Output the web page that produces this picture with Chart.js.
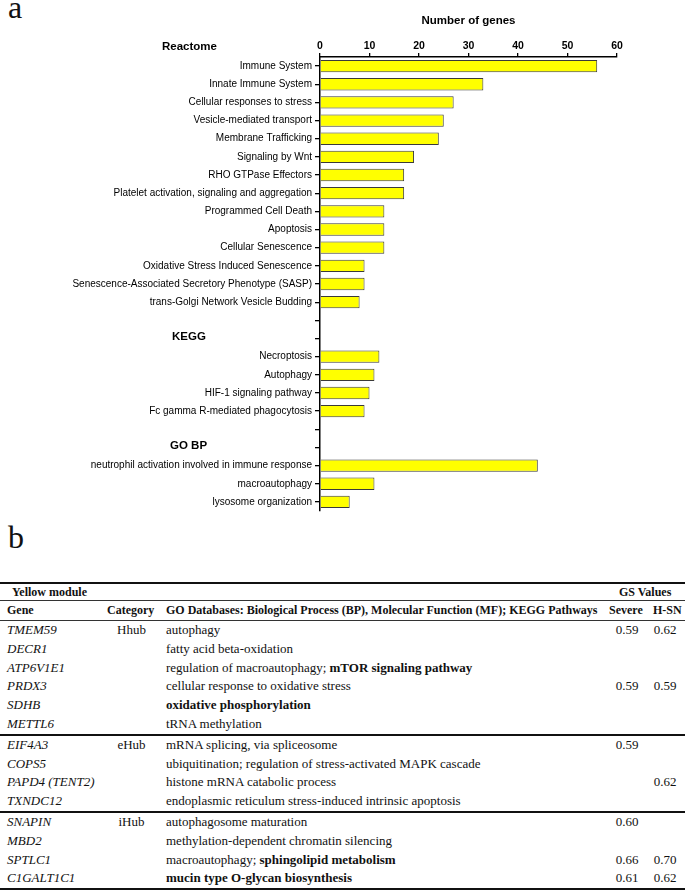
<!DOCTYPE html>
<html>
<head>
<meta charset="utf-8">
<script src="https://cdn.jsdelivr.net/npm/chart.js@4.4.1/dist/chart.umd.min.js"></script>
<style>
  body { margin: 0; background: #fff; width: 685px; height: 893px; overflow: hidden; position: relative; color: #111; }
  .panel { position: absolute; left: 8px; font: 32px "Liberation Serif", serif; line-height: 32px; }
  #chartBox { position: absolute; left: 0; top: 0; width: 685px; height: 520px; }
  #table { position: absolute; left: 0; top: 582px; width: 685px; font-family: "Liberation Serif", serif; }
  .row { position: relative; height: 18.8px; font-size: 13px; }
  .row span { position: absolute; top: 0; line-height: 18.8px; white-space: nowrap; }
  .head { font-weight: bold; font-size: 12px; }
  .rule { height: 1px; background: #333; }
  .thick { height: 2px; background: #111; }
  i { font-style: italic; }
</style>
</head>
<body>
<div class="panel" style="top:-9px">a</div>
<div class="panel" style="top:521px">b</div>
<div id="chartBox"><canvas id="myChart"></canvas></div>
<div id="table"></div>
<script>
// panel a data
const sectionNames = ["Reactome", "KEGG", "GO BP"];
const reactomeTerms = [
  "Immune System",
  "Innate Immune System",
  "Cellular responses to stress",
  "Vesicle-mediated transport",
  "Membrane Trafficking",
  "Signaling by Wnt",
  "RHO GTPase Effectors",
  "Platelet activation, signaling and aggregation",
  "Programmed Cell Death",
  "Apoptosis",
  "Cellular Senescence",
  "Oxidative Stress Induced Senescence",
  "Senescence-Associated Secretory Phenotype (SASP)",
  "trans-Golgi Network Vesicle Budding",
];
const reactomeCounts = [56, 33, 27, 25, 24, 19, 17, 17, 13, 13, 13, 9, 9, 8];
const keggTerms = [
  "Necroptosis",
  "Autophagy",
  "HIF-1 signaling pathway",
  "Fc gamma R-mediated phagocytosis",
];
const keggCounts = [12, 11, 10, 9];
const goTerms = [
  "neutrophil activation involved in immune response",
  "macroautophagy",
  "lysosome organization",
];
const goCounts = [44, 11, 6];
const xTicks = [0, 10, 20, 30, 40, 50, 60];

// panel b data
const genes = ["TMEM59", "DECR1", "ATP6V1E1", "PRDX3", "SDHB", "METTL6",
  "EIF4A3", "COPS5", "PAPD4 (TENT2)", "TXNDC12",
  "SNAPIN", "MBD2", "SPTLC1", "C1GALT1C1"];
const hubs = ["Hhub", "", "", "", "", "", "eHub", "", "", "", "iHub", "", "", ""];
const geneTerms = [
  "autophagy",
  "fatty acid beta-oxidation",
  "regulation of macroautophagy; <b>mTOR signaling pathway</b>",
  "cellular response to oxidative stress",
  "<b>oxidative phosphorylation</b>",
  "tRNA methylation",
  "mRNA splicing, via spliceosome",
  "ubiquitination; regulation of stress-activated MAPK cascade",
  "histone mRNA catabolic process",
  "endoplasmic reticulum stress-induced intrinsic apoptosis",
  "autophagosome maturation",
  "methylation-dependent chromatin silencing",
  "macroautophagy; <b>sphingolipid metabolism</b>",
  "<b>mucin type O-glycan biosynthesis</b>",
];
const gsSevere = ["0.59", "", "", "0.59", "", "", "0.59", "", "", "", "0.60", "", "0.66", "0.61"];
const gsHSN = ["0.62", "", "", "0.59", "", "", "", "", "0.62", "", "", "", "0.70", "0.62"];
const groupSizes = [6, 4, 4];

const labels = [...reactomeTerms, "", "", ...keggTerms, "", "", ...goTerms];
const counts = [...reactomeCounts, null, null, ...keggCounts, null, null, ...goCounts];

Chart.defaults.font.family = '"Liberation Sans", Arial, sans-serif';
Chart.defaults.color = "#000";

const sectionHeaders = {
  id: "sectionHeaders",
  afterDraw(chart) {
    const { ctx, chartArea, scales } = chart;
    const y = scales.y;
    ctx.save();
    ctx.font = 'bold 11.5px "Liberation Sans", Arial, sans-serif';
    ctx.fillStyle = "#000";
    ctx.textBaseline = "middle";
    ctx.fillText(sectionNames[0], 162, chartArea.top - 10);
    ctx.fillText(sectionNames[1], 172, y.getPixelForValue(reactomeTerms.length + 1) - 2);
    ctx.fillText(sectionNames[2], 170, y.getPixelForValue(reactomeTerms.length + keggTerms.length + 3) - 2);
    ctx.restore();
  },
};

const ctx = document.getElementById("myChart").getContext("2d");
const myChart = new Chart(ctx, {
  type: "bar",
  data: {
    labels: labels,
    datasets: [
      {
        label: "Number of genes",
        data: counts,
        backgroundColor: "#ffff00",
        borderColor: "#3a3a3a",
        borderWidth: 1,
        borderSkipped: "start",
        categoryPercentage: 1,
        barPercentage: 0.68,
      },
    ],
  },
  options: {
    indexAxis: "y",
    responsive: true,
    maintainAspectRatio: false,
    animation: false,
    layout: { padding: { top: 10, right: 68, bottom: 6, left: 0 } },
    plugins: { legend: { display: false }, tooltip: { enabled: false } },
    scales: {
      x: {
        type: "linear",
        position: "top",
        min: 0,
        max: 60,
        afterBuildTicks: (s) => {
          s.ticks = xTicks.map((v) => ({ value: v }));
        },
        afterFit: (s) => {
          s.height = 47;
        },
        title: {
          display: true,
          text: "Number of genes",
          font: { size: 11.5, weight: "bold" },
          padding: { top: 4, bottom: 4 },
        },
        ticks: { font: { size: 10.5, weight: "bold" }, padding: 1, maxRotation: 0 },
        grid: { drawOnChartArea: false, tickLength: 4, color: "#000", lineWidth: 1.3 },
        border: { color: "#000", width: 1.5 },
      },
      y: {
        afterFit: (s) => {
          s.width = 320;
        },
        ticks: { autoSkip: false, font: { size: 10 }, padding: 3 },
        grid: { offset: false, drawOnChartArea: false, tickLength: 5, color: "#000", lineWidth: 1.3 },
        border: { color: "#000", width: 1.5 },
      },
    },
  },
  plugins: [sectionHeaders],
});

// table
const table = document.getElementById("table");
const add = (html) => table.insertAdjacentHTML("beforeend", html);
add('<div class="thick"></div>');
add('<div class="row head" style="height:16px"><span style="left:12px;line-height:16px">Yellow module</span>' +
  '<span style="left:619px;line-height:16px">GS Values</span></div>');
add('<div class="rule"></div>');
add('<div class="row head" style="height:19px"><span style="left:7px;line-height:19px">Gene</span>' +
  '<span style="left:107px;line-height:19px">Category</span>' +
  '<span style="left:166px;line-height:19px">GO Databases: Biological Process (BP), Molecular Function (MF); KEGG Pathways</span>' +
  '<span style="left:609px;line-height:19px">Severe</span>' +
  '<span style="left:653px;line-height:19px">H-SN</span></div>');
add('<div class="rule"></div>');
let g = 0;
let inGroup = 0;
for (let i = 0; i < genes.length; i++) {
  if (inGroup === groupSizes[g]) {
    add('<div class="thick"></div>');
    g++;
    inGroup = 0;
  }
  add('<div class="row">' +
    `<span style="left:7px"><i>${genes[i]}</i></span>` +
    `<span style="left:107px;width:49px;text-align:center">${hubs[i]}</span>` +
    `<span style="left:166px">${geneTerms[i]}</span>` +
    `<span style="left:607px;width:40px;text-align:center">${gsSevere[i]}</span>` +
    `<span style="left:650px;width:30px;text-align:center">${gsHSN[i]}</span>` +
    "</div>");
  inGroup++;
}
add('<div class="thick"></div>');
</script>
</body>
</html>
